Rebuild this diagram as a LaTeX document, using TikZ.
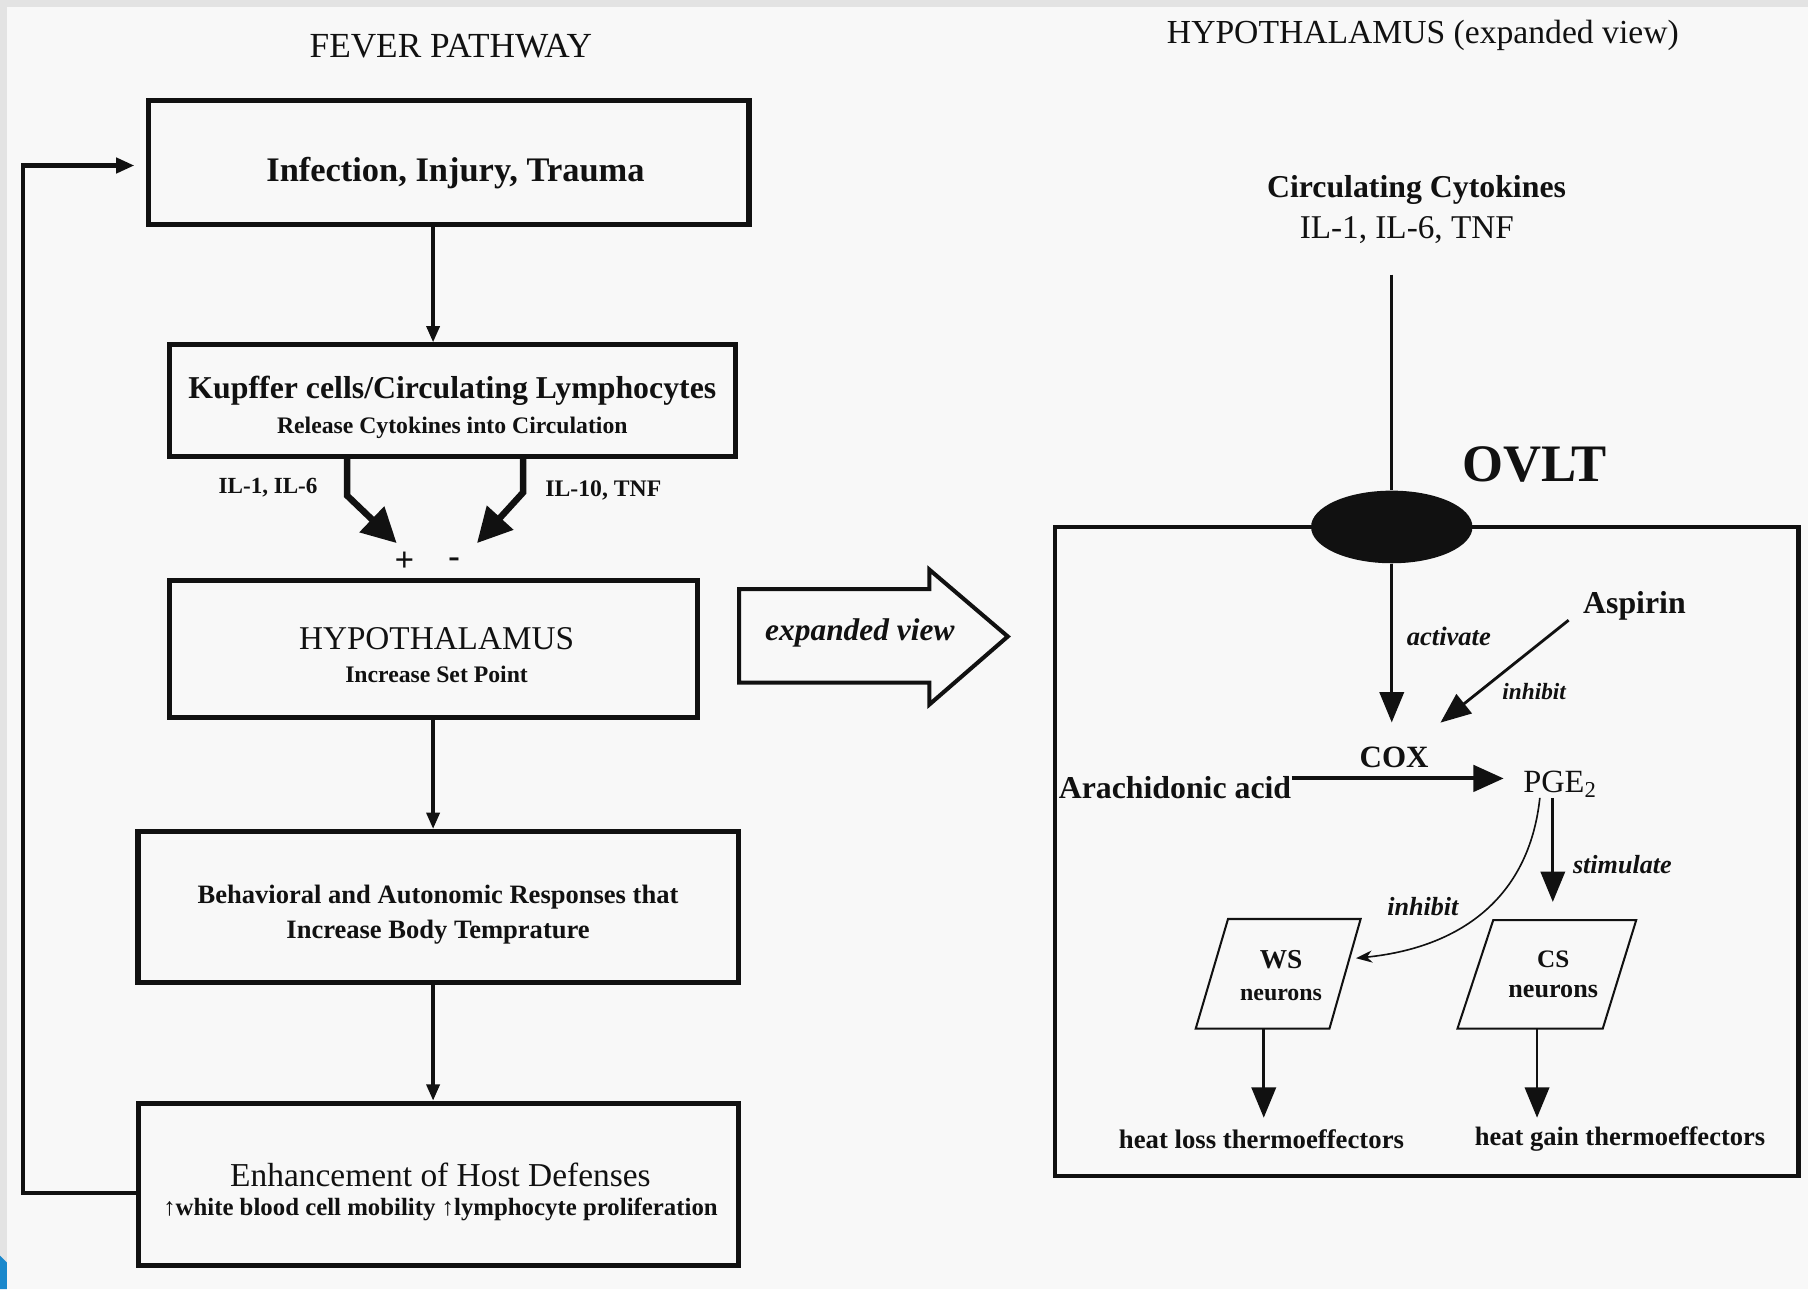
\documentclass[tikz,border=0pt]{standalone}
\usepackage{fontspec}
\setmainfont{Liberation Serif}
\usetikzlibrary{arrows.meta,shapes.geometric}
\newcommand\myfs[2]{\fontsize{#1pt}{#2pt}\selectfont}
\definecolor{bgc}{HTML}{F8F8F8}
\definecolor{band}{HTML}{E3E3E3}
\definecolor{cornerblue}{HTML}{1A88CC}
\definecolor{ink}{HTML}{111111}
\begin{document}
\begin{tikzpicture}[x=0.02cm,y=-0.02cm,
  fbox/.style={draw=ink, line width=2.5pt, inner sep=0pt, text=ink},
  rbox/.style={draw=ink, line width=2.2pt, inner sep=0pt},
  lbl/.style={inner sep=0pt, text=ink},
  varr/.style={draw=ink, line width=1.6pt, -{Triangle[length=8pt,width=6.5pt]}},
  bigarr/.style={draw=ink, line width=1.4pt, -{Triangle[length=15pt,width=12pt]}},
  coxarr/.style={draw=ink, line width=2pt, -{Triangle[length=15pt,width=13pt]}},
  fatarr/.style={draw=ink, line width=3.2pt, -{Triangle[length=17pt,width=17pt]}},
  para/.style={draw=ink, line width=1pt, line join=miter},
]
\useasboundingbox (0,0) rectangle (1568,1118);
\fill[bgc] (0,0) rectangle (1568,1118);
\fill[band] (0,0) rectangle (6,1118);
\fill[band] (0,0) rectangle (1568,6);
\fill[cornerblue] (0,1089) -- (6,1095) -- (6,1118) -- (0,1118) -- cycle;

% titles
\node[lbl, font=\myfs{17.4}{20}] (tL) at (391,40) {FEVER PATHWAY};
\node[lbl, font=\myfs{16.6}{20}] (tR) at (1234,31) {HYPOTHALAMUS (expanded view)};

% left column boxes
\node[fbox, minimum width=10.42cm, minimum height=2.166cm] (b1) at (389.1,140.9) {};
\node[fbox, minimum width=9.82cm, minimum height=1.94cm] (b2) at (392.3,347.5) {};
\node[fbox, minimum width=9.16cm, minimum height=2.39cm] (b3) at (375.6,562.9) {};
\node[fbox, minimum width=10.41cm, minimum height=2.62cm] (b4) at (379.9,786.5) {};
\node[fbox, minimum width=10.42cm, minimum height=2.81cm] (b5) at (380.2,1026.9) {};

\node[lbl, font=\myfs{17}{20}\bfseries] (b1t) at (395,150) {Infection, Injury, Trauma};
\node[lbl, align=center, font=\myfs{11.7}{17.2}\bfseries] (b2t) at (392.3,353)
  {{\myfs{15.7}{17.2}Kupffer cells/Circulating Lymphocytes}\\Release Cytokines into Circulation};
\node[lbl, align=center, font=\myfs{11.7}{16.3}\bfseries] (b3t) at (378.6,568)
  {{\mdseries\myfs{16.4}{16.3}HYPOTHALAMUS}\\Increase Set Point};
\node[lbl, align=center, font=\myfs{13.1}{17.2}\bfseries] (b4t) at (379.9,793.5)
  {Behavioral and Autonomic Responses that\\Increase Body Temprature};
\node[lbl, align=center, font=\myfs{12.25}{14.4}\bfseries] (b5t) at (382,1034)
  {{\mdseries\myfs{16.5}{14.4}Enhancement of Host Defenses}\\↑white blood cell mobility ↑lymphocyte proliferation};

% vertical arrows
\draw[varr] (b1.south -| b3.north) -- (b2.north -| b3.north);
\draw[varr] (b3.south) -- (b3.south |- b4.north);
\draw[varr] (b4.south -| b3.south) -- (b5.north -| b3.south);

% feedback loop
\draw[draw=ink, line width=2pt, -{Triangle[length=9pt,width=7.5pt]}]
  ([yshift=-4.4pt]b5.west) -- ++(-97.3,0) |- ([xshift=-5.7pt,yshift=-1.5pt]b1.west);

% cytokine arrows
\node[lbl, font=\myfs{17}{18}\bfseries] (plus) at (350.8,487) {+};
\node[lbl, font=\myfs{17}{18}\bfseries] (minus) at (393.9,488) {-};
\coordinate (tipL) at (344,471);
\coordinate (tipR) at (413.7,471);
\draw[fatarr] ([xshift=-1.826cm]b2.south) -- ++(0,31.6) -- (tipL);
\draw[fatarr] ([xshift=1.226cm]b2.south) -- ++(0,29) -- (tipR);
\node[lbl, font=\myfs{11.4}{14}\bfseries] (il1) at (232.5,423) {IL-1, IL-6};
\node[lbl, font=\myfs{11.7}{14}\bfseries] (il10) at (523.3,425) {IL-10, TNF};

% hollow expanded-view arrow
\draw[draw=ink, line width=2pt, line join=miter]
  (641,511) -- (806,511) -- (806,494) -- (874,552) -- (806,611) -- (806,592) -- (641,592) -- cycle;
\node[lbl, font=\myfs{15.5}{18}\bfseries\itshape] (expv) at (745.7,549) {expanded view};

% right side
\node[rbox, minimum width=12.906cm, minimum height=11.26cm] (hbox) at (1237.3,738.5) {};
\node[ellipse, fill=ink, inner sep=0pt, minimum width=2.8cm, minimum height=1.26cm] (ovlt) at (1207,457) {};
\node[lbl, font=\myfs{26}{30}\bfseries] (ovltT) at (1331,403) {OVLT};
\node[lbl, align=center, font=\myfs{16.4}{20.2}] (cyto) at (1228.5,182)
  {{\bfseries\myfs{15.7}{20.2}Circulating Cytokines}\\IL-1, IL-6, TNF\kern9.6pt};
\draw[draw=ink, line width=1.3pt, shorten <=15pt] (cyto.south -| ovlt.north) -- (ovlt.north);

\node[lbl, font=\myfs{15.3}{18}\bfseries] (cox) at (1209,657) {COX};
\draw[bigarr, shorten >=12pt] (ovlt.south) -- (ovlt.south |- cox.north);
\node[lbl, font=\myfs{13.1}{16}\bfseries\itshape] (act) at (1256.5,552) {activate};

\node[lbl, font=\myfs{15.7}{18}\bfseries] (asp) at (1417.5,525) {Aspirin};
\draw[bigarr] ([xshift=-7pt]asp.south west) -- ([shift={(5.7pt,11.9pt)}]cox.north east);
\node[lbl, font=\myfs{11.5}{14}\bfseries\itshape] (inh1) at (1330.5,600) {inhibit};

\node[lbl, font=\myfs{15.7}{18}\bfseries] (arach) at (1019,683) {Arachidonic acid};
\node[lbl, font=\myfs{16}{18}] (pge) at (1353,680) {PGE\textsubscript{2}};
\coordinate (aStart) at ([yshift=4.5pt]arach.east);
\draw[coxarr, shorten >=9.5pt] (aStart) -- (aStart -| pge.west);

% neurons
\draw[para] (1065,797) -- (1180,797) -- (1153,892) -- (1037,892) -- cycle;
\draw[para] (1295,798) -- (1419,798) -- (1390,892) -- (1264,892) -- cycle;
\coordinate (csN) at (1346.6,798);
\coordinate (wsR) at (1176,831);
\coordinate (wsB) at (1096,892);
\coordinate (csB) at (1333,892);
\node[lbl, align=center, font=\myfs{11.8}{15.4}\bfseries] (wsT) at (1111,846) {{\myfs{13.5}{15.4}WS}\\neurons};
\node[lbl, align=center, font=\myfs{12.9}{15.3}\bfseries] (csT) at (1347,845) {{\myfs{12.4}{15.3}CS}\\neurons};

\coordinate (pgeS) at ([xshift=-3.6pt]pge.south);
\draw[bigarr, shorten >=9pt] (pgeS) -- (pgeS |- csN);
\node[lbl, font=\myfs{12.9}{16}\bfseries\itshape] (stim) at (1407,750) {stimulate};

\draw[draw=ink, line width=0.8pt, -{Stealth[length=8pt,width=6pt]}]
  ([xshift=-10pt]pge.south) .. controls (1326,780) and (1265,822) .. (wsR);
\node[lbl, font=\myfs{12.9}{16}\bfseries\itshape] (inh2) at (1234,786) {inhibit};

\node[lbl, font=\myfs{13.2}{16}\bfseries] (hl) at (1094,988) {heat loss thermoeffectors};
\node[lbl, font=\myfs{13.1}{16}\bfseries] (hg) at (1405,988) {heat gain thermoeffectors};
\draw[bigarr, shorten >=5.7pt] (wsB) -- (wsB |- hl.north);
\draw[bigarr, shorten >=5.7pt] (csB) -- (csB |- hl.north);
\end{tikzpicture}
\end{document}
